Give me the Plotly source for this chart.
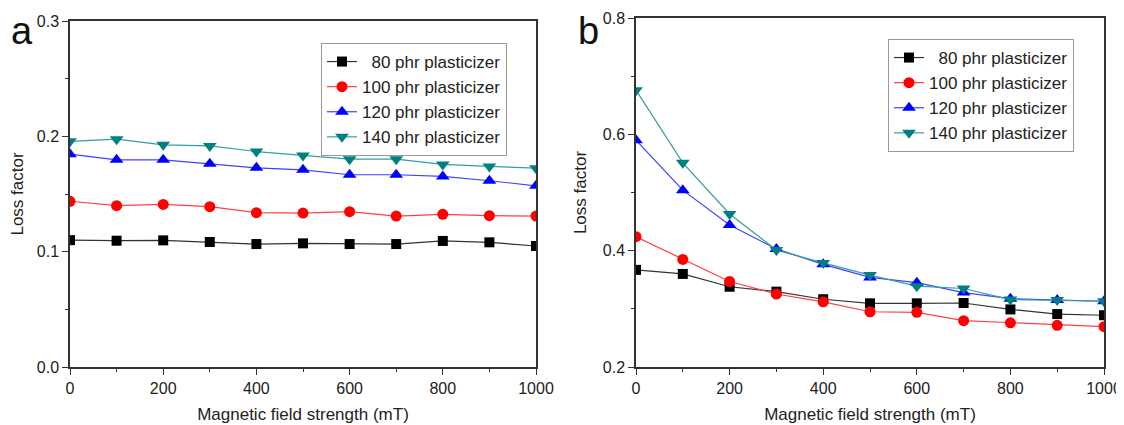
import plotly.graph_objects as go

field = [0, 100, 200, 300, 400, 500, 600, 700, 800, 900, 1000]
labels = ["\u00a0\u00a080 phr plasticizer", "100 phr plasticizer", "120 phr plasticizer", "140 phr plasticizer"]

a_80 = [0.110, 0.1095, 0.1098, 0.1084, 0.1066, 0.1072, 0.1066, 0.1066, 0.1093, 0.1081, 0.1049]
a_100 = [0.1437, 0.1399, 0.1410, 0.1390, 0.1338, 0.1335, 0.1347, 0.1309, 0.1324, 0.1312, 0.1309]
a_120 = [0.1845, 0.1796, 0.1796, 0.1762, 0.1727, 0.1710, 0.1667, 0.1667, 0.1652, 0.1615, 0.1571]
a_140 = [0.1957, 0.1975, 0.1926, 0.1917, 0.1868, 0.1834, 0.1802, 0.1802, 0.1756, 0.1739, 0.1724]

b_80 = [0.367, 0.360, 0.338, 0.3295, 0.3165, 0.3095, 0.3095, 0.310, 0.299, 0.291, 0.289]
b_100 = [0.424, 0.385, 0.347, 0.3255, 0.312, 0.295, 0.294, 0.2796, 0.276, 0.2716, 0.2693]
b_120 = [0.590, 0.504, 0.444, 0.403, 0.3765, 0.354, 0.345, 0.328, 0.3175, 0.315, 0.313]
b_140 = [0.676, 0.551, 0.463, 0.401, 0.379, 0.358, 0.339, 0.335, 0.316, 0.315, 0.313]

marker_colors = ["#000000", "#ff0000", "#0000ff", "#008080"]
line_colors = ["#333333", "#ff4040", "#4040ff", "#30a0a0"]
symbols = ["square", "circle", "triangle-up", "triangle-down"]
sizes = [10, 11, 12, 12]

FONT = "Liberation Sans, Arial, sans-serif"
# page body has an 8px margin: figure is 1116x417 and page coords are shifted by 8px
W, H, OFF = 1116, 417, 8


def px(x):
    return (x - OFF) / W


def py(y):
    return 1 - (y - OFF) / H


fig = go.Figure()

for series, xa, ya, leg in [
    ([a_80, a_100, a_120, a_140], "x", "y", "legend"),
    ([b_80, b_100, b_120, b_140], "x2", "y2", "legend2"),
]:
    for i, vals in enumerate(series):
        fig.add_trace(go.Scatter(
            x=field, y=vals, mode="lines+markers", name=labels[i],
            xaxis=xa, yaxis=ya, legend=leg,
            line=dict(color=line_colors[i], width=1.2),
            marker=dict(symbol=symbols[i], size=sizes[i], color=marker_colors[i],
                        line=dict(width=0)),
        ))

axis_common = dict(
    showline=True, linecolor="#333333", linewidth=1.5, mirror=True,
    ticks="outside", ticklen=6, tickwidth=1.2, tickcolor="#333333",
    showgrid=False, zeroline=False,
    tickfont=dict(family=FONT, size=16, color="#222222"),
    automargin=False,
)
title_font = dict(family=FONT, size=17, color="#222222")
legend_common = dict(xanchor="left", yanchor="top", bordercolor="#999999", borderwidth=1,
                     bgcolor="white", font=dict(family=FONT, size=17, color="#222222"),
                     tracegroupgap=0)

fig.update_layout(
    width=W, height=H,
    margin=dict(l=0, r=0, t=0, b=0),
    paper_bgcolor="white", plot_bgcolor="white",
    font=dict(family=FONT, color="#222222"),
    xaxis=dict(domain=[px(70), px(536)], range=[0, 1000], tickvals=[0, 200, 400, 600, 800, 1000],
               minor=dict(ticks="outside", ticklen=3, tickvals=[100, 300, 500, 700, 900], tickcolor="#333333"),
               title=dict(text="Magnetic field strength (mT)", font=title_font, standoff=12),
               anchor="y", **axis_common),
    yaxis=dict(domain=[py(367), py(21)], range=[0, 0.3], tickvals=[0, 0.1, 0.2, 0.3], tickformat=".1f",
               minor=dict(ticks="outside", ticklen=3, tickvals=[0.05, 0.15, 0.25], tickcolor="#333333"),
               title=dict(text="Loss factor", font=title_font, standoff=12),
               anchor="x", **axis_common),
    xaxis2=dict(domain=[px(636), px(1104)], range=[0, 1000], tickvals=[0, 200, 400, 600, 800, 1000],
                minor=dict(ticks="outside", ticklen=3, tickvals=[100, 300, 500, 700, 900], tickcolor="#333333"),
                title=dict(text="Magnetic field strength (mT)", font=title_font, standoff=12),
                anchor="y2", **axis_common),
    yaxis2=dict(domain=[py(367), py(18)], range=[0.2, 0.8], tickvals=[0.2, 0.4, 0.6, 0.8], tickformat=".1f",
                minor=dict(ticks="outside", ticklen=3, tickvals=[0.3, 0.5, 0.7], tickcolor="#333333"),
                title=dict(text="Loss factor", font=title_font, standoff=12),
                anchor="x2", **axis_common),
    legend=dict(x=px(321), y=py(43), **legend_common),
    legend2=dict(x=px(888), y=py(39), **legend_common),
    showlegend=True,
    annotations=[
        dict(text="a", x=px(22), y=1, xref="paper", yref="paper", showarrow=False,
             font=dict(family=FONT, size=38, color="#111111"), xanchor="center", yanchor="top"),
        dict(text="b", x=px(589), y=1, xref="paper", yref="paper", showarrow=False,
             font=dict(family=FONT, size=38, color="#111111"), xanchor="center", yanchor="top"),
    ],
)

fig.write_html("out.html")
